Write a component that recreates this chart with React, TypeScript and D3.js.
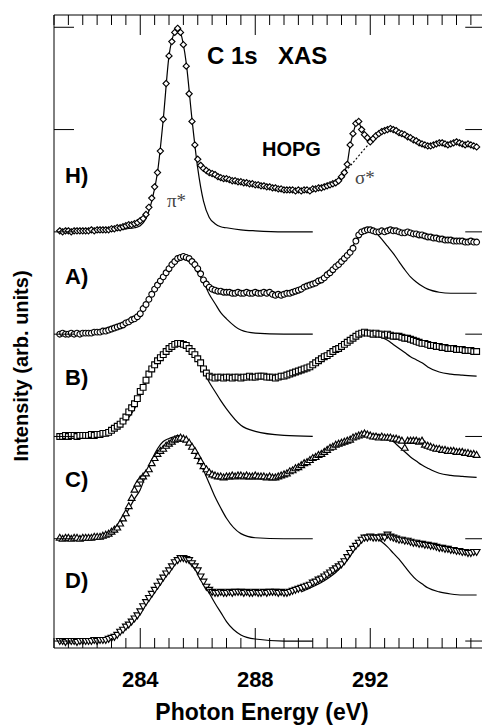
import React from 'react';
import * as d3 from 'd3';

// x grid of the measured spectra (eV)
const energies = d3.range(146).map((i) => Math.round((281.2 + i * 0.1) * 10) / 10);

const seriesLabels = ['H)', 'A)', 'B)', 'C)', 'D)'];
const seriesMarkers = ['diamond', 'circle', 'square', 'triUp', 'triDown'];
const offsets = [400, 300, 200, 100, 0];

const hData = [1,0,1,1,0,1,1,1,1,1,
1,2,1,2,2,2,2,2,3,3,
4,4,5,6,7,7,8,9,11,13,
17,24,33,44,58,79,110,145,172,186,
195,199,195,183,162,135,108,85,71,65,
62,60,58,57,56,54,53,52,52,51,
50,50,49,49,48,48,47,47,46,46,
45,45,44,44,43,43,42,42,41,41,
41,41,40,41,40,41,41,40,42,42,
43,43,44,45,46,47,48,50,54,58,
66,85,96,106,108,100,95,92,88,91,
94,96,98,99,100,101,100,99,97,96,
95,93,92,90,89,87,86,85,84,84,
85,86,87,87,86,85,86,87,88,87,
86,85,86,85,84,83];

const aData = [0,1,0,0,1,0,1,0,1,1,
1,1,2,2,2,3,3,4,5,6,
7,8,9,11,12,14,15,17,20,25,
29,34,39,44,48,52,56,60,64,68,
71,74,75,76,75,74,71,68,64,59,
53,49,46,44,43,42,42,41,41,41,
40,40,41,40,40,41,40,40,41,40,
40,41,40,41,39,38,39,38,39,40,
40,41,42,43,44,46,47,48,49,50,
52,53,55,58,60,63,66,68,71,74,
77,80,84,91,97,100,101,102,102,101,
100,100,101,100,101,102,101,101,100,99,
99,100,99,98,98,97,97,96,95,95,
94,94,93,93,92,92,92,91,91,91,
91,90,90,91,90,90];

const bData = [0,0,1,0,1,1,0,1,1,1,
1,2,1,2,2,3,3,4,6,8,
10,12,15,19,24,28,32,37,44,48,
55,61,66,70,74,77,80,83,86,88,
90,91,91,90,89,86,83,80,76,72,
66,62,59,58,57,58,58,57,58,58,
57,58,58,57,58,58,59,58,58,59,
59,59,58,58,58,57,58,59,59,60,
61,62,63,64,65,66,67,68,70,72,
74,76,78,79,81,83,85,86,88,90,
92,94,96,98,100,101,102,101,101,100,
101,100,100,99,100,99,98,98,98,97,
96,96,95,94,93,92,91,91,90,89,
89,88,88,87,87,86,86,86,85,85,
85,84,84,84,83,83];

const cData = [1,0,1,1,0,1,1,0,1,1,
1,1,2,2,2,3,4,5,7,9,
11,15,20,25,32,40,48,54,58,61,
64,68,74,79,83,86,88,91,93,95,
97,98,99,98,97,94,90,86,81,76,
71,68,65,63,62,61,61,60,61,61,
62,61,62,62,61,62,61,61,62,61,
61,61,60,61,60,60,61,62,63,64,
66,67,69,70,72,74,75,77,79,80,
82,83,85,87,89,90,92,93,94,95,
96,97,99,100,101,102,103,102,101,100,
100,99,100,99,99,99,98,98,97,96,
89,96,96,96,96,95,96,92,91,90,
89,88,88,87,87,86,86,86,85,85,
85,84,84,83,83,82];

const dData = [0,0,-1,0,0,0,-1,0,0,0,
0,0,1,0,1,1,1,2,3,4,
6,9,11,14,16,19,22,25,29,34,
38,42,46,50,54,58,62,66,69,73,
77,79,81,81,80,79,76,73,69,63,
58,53,50,48,47,47,48,47,47,48,
47,48,48,48,47,48,47,47,48,47,
47,48,47,48,48,48,47,48,47,47,
48,49,50,51,52,53,54,55,57,58,
60,61,63,65,67,69,71,73,75,78,
82,86,90,93,96,99,101,101,102,101,
101,101,102,101,104,102,101,100,99,99,
98,98,97,96,96,95,95,94,94,93,
93,92,91,91,90,90,89,89,88,88,
87,87,86,86,87,87];

// pi* fit curves
const piFitE = [281.2, 282.0, 282.5, 283.0, 283.5, 283.8, 284.0, 284.2, 284.4, 284.6, 284.8, 285.0, 285.2, 285.3, 285.4, 285.6, 285.8, 286.0, 286.2, 286.4, 286.6, 286.8, 287.0, 287.5, 288.0, 289.0, 290.0];
const hPiFit = [0,0,0,1,3,4,6,13,30,58,110,172,196,200,195,165,110,62,30,14,8,5,4,2,1,0,0];
const aPiFit = [0,0,1,4,9,13,18,27,38,48,58,66,72,74,75,73,68,60,51,39,30,21,15,4,1,0,0];
const bPiFit = [0,0,1,4,15,27,40,54,65,73,80,86,90,91,91,87,81,73,64,53,44,35,27,11,5,1,0];
const cPiFit = [0,0,1,4,24,39,48,63,77,88,95,98,100,101,100,97,90,79,67,54,41,30,20,5,1,0,0];
const dPiFit = [0,0,1,3,12,20,28,36,45,54,62,70,76,79,81,80,74,66,57,47,37,28,19,6,2,0,0];

// sigma* fit curves (A-D)
const sigFitE = [289.6, 290.0, 290.4, 290.8, 291.2, 291.6, 291.8, 292.0, 292.2, 292.4, 292.6, 292.8, 293.0, 293.2, 293.4, 293.6, 293.8, 294.0, 294.4, 294.8, 295.2, 295.7];
const aSigFit = [43,48,55,66,77,95,99,101,99,93,86,79,71,63,56,51,47,44,41,40,40,40];
const bSigFit = [62,69,77,84,91,98,100,100,99,97,94,90,86,82,78,75,72,68,63,61,60,59];
const cSigFit = [70,77,85,91,96,101,102,102,102,101,99,95,90,85,80,76,72,69,64,62,61,60];
const dSigFit = [48,53,59,67,79,95,100,102,101,97,92,86,80,73,66,60,56,52,48,46,45,45];

// HOPG sigma* edge (dotted)
const edgeE = [291.05, 292.1];
const edgeV = [56, 91];
const hExcitonRange = [290.9, 292.1];

const xMajorTicks = [284, 288, 292];
const xMinorTicks = d3.range(281, 296.01, 0.5);
const yTicks = [0, 100, 200, 300, 400, 500, 600];

const allData = [hData, aData, bData, cData, dData];
const allPiFits = [hPiFit, aPiFit, bPiFit, cPiFit, dPiFit];
const allSigFits = [null, aSigFit, bSigFit, cSigFit, dSigFit];

const W = 482;
const H = 726;
const L = 54, R = 485.25, T = 15, B = 648;
const SANS = 'Liberation Sans, Arial, Helvetica, sans-serif';
const SERIF = 'Liberation Serif, Times New Roman, serif';

const x = d3.scaleLinear().domain([281, 296]).range([L, R]);
const y = d3.scaleLinear().domain([-6.8, 612]).range([B, T]);

function markerPath(type: string): string {
  switch (type) {
    case 'diamond': {
      const r = 3.1;
      return `M0,${-r}L${r},0L0,${r}L${-r},0Z`;
    }
    case 'circle': {
      const r = 2.9;
      return `M${r},0A${r},${r} 0 1,1 ${-r},0A${r},${r} 0 1,1 ${r},0Z`;
    }
    case 'square': {
      const s = 2.9;
      return `M${-s},${-s}H${s}V${s}H${-s}Z`;
    }
    case 'triUp': {
      const s = 3.4;
      return `M0,${-s}L${s},${s * 0.75}L${-s},${s * 0.75}Z`;
    }
    default: {
      const s = 3.4;
      return `M0,${s}L${s},${-s * 0.75}L${-s},${-s * 0.75}Z`;
    }
  }
}

export default function App() {
  const fitLine = d3
    .line<[number, number]>()
    .x((d) => x(d[0]))
    .y((d) => y(d[1]))
    .curve(d3.curveMonotoneX);
  const straight = d3
    .line<[number, number]>()
    .x((d) => x(d[0]))
    .y((d) => y(d[1]));

  return (
    <svg
      width={W}
      height={H}
      style={{ position: 'absolute', left: 0, top: 0, background: '#fff' }}
      fontFamily={SANS}
    >
      <defs>
        <clipPath id="plotclip">
          <rect x={L} y={T} width={R - L} height={B - T} />
        </clipPath>
      </defs>

      {/* fit curves */}
      <g clipPath="url(#plotclip)" fill="none" stroke="#000" strokeWidth={1.2}>
        {allPiFits.map((f, i) => (
          <path
            key={'pi' + i}
            d={fitLine(piFitE.map((e, j) => [e, f[j] + offsets[i]] as [number, number])) || ''}
          />
        ))}
        {allSigFits.map((f, i) =>
          f ? (
            <path
              key={'sig' + i}
              d={fitLine(sigFitE.map((e, j) => [e, f[j] + offsets[i]] as [number, number])) || ''}
            />
          ) : null
        )}
        {/* HOPG exciton connecting line */}
        <path
          d={
            straight(
              energies
                .map((e, j) => [e, hData[j] + offsets[0]] as [number, number])
                .filter((d) => d[0] >= hExcitonRange[0] - 1e-6 && d[0] <= hExcitonRange[1] + 1e-6)
            ) || ''
          }
        />
        <path
          d={straight(edgeE.map((e, j) => [e, edgeV[j] + offsets[0]] as [number, number])) || ''}
          strokeDasharray="2,2"
          strokeWidth={1.1}
        />
      </g>

      {/* data markers */}
      <g fill="#fff" stroke="#000" strokeWidth={1.15}>
        {allData.map((data, i) => (
          <g key={'d' + i}>
            {energies.map((e, j) => (
              <path
                key={j}
                d={markerPath(seriesMarkers[i])}
                transform={`translate(${x(e)},${y(data[j] + offsets[i])})`}
              />
            ))}
          </g>
        ))}
      </g>

      {/* axes frame */}
      <g stroke="#000" strokeWidth={1} fill="none">
        <line x1={L} y1={T} x2={R} y2={T} />
        <line x1={L} y1={B} x2={R} y2={B} />
        <line x1={L} y1={T} x2={L} y2={B} />
        <line x1={R} y1={T} x2={R} y2={B} />
        {xMinorTicks.map((t) => {
          const major = xMajorTicks.includes(t);
          const len = major ? 20 : 10;
          return (
            <g key={'xt' + t}>
              <line x1={x(t)} x2={x(t)} y1={B} y2={B - len} />
              <line x1={x(t)} x2={x(t)} y1={T} y2={T + len} />
            </g>
          );
        })}
        {yTicks.map((t) => (
          <g key={'yt' + t}>
            <line x1={L} x2={L + 20} y1={y(t)} y2={y(t)} />
            <line x1={R} x2={R - 20} y1={y(t)} y2={y(t)} />
          </g>
        ))}
      </g>

      {/* tick labels */}
      {xMajorTicks.map((t) => (
        <text key={'xl' + t} x={x(t)} y={687} textAnchor="middle" fontSize={22} fontWeight="bold">
          {t}
        </text>
      ))}

      {/* axis titles */}
      <text x={262} y={720} textAnchor="middle" fontSize={23} fontWeight="bold">
        Photon Energy (eV)
      </text>
      <text
        transform={`translate(28,366) rotate(-90)`}
        textAnchor="middle"
        fontSize={20}
        fontWeight="bold"
      >
        Intensity (arb. units)
      </text>

      {/* series labels */}
      {seriesLabels.map((s, i) => (
        <text key={s} x={65} y={183 + (400 - offsets[i]) * 1.012} fontSize={22} fontWeight="bold">
          {s}
        </text>
      ))}

      {/* annotations */}
      <text x={207} y={64} fontSize={24} fontWeight="bold">C 1s</text>
      <text x={278} y={64} fontSize={24} fontWeight="bold">XAS</text>
      <text x={262} y={156} fontSize={20} fontWeight="bold">HOPG</text>
      <text x={167} y={207} fontSize={19} fontFamily={SERIF} fill="#444">π*</text>
      <text x={355} y={184} fontSize={19} fontFamily={SERIF} fill="#444">σ*</text>
    </svg>
  );
}
